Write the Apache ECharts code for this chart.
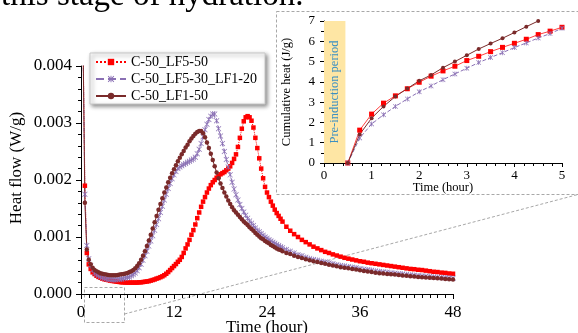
<!DOCTYPE html>
<html>
<head>
<meta charset="utf-8">
<script src="https://cdn.jsdelivr.net/npm/echarts@6/dist/echarts.min.js"></script>
<style>
  html, body { margin: 0; padding: 0; background: #fff; }
  #chart { width: 578px; height: 333px; }
</style>
</head>
<body>
<div id="chart"></div>
<script>
// main plot: heat flow, stored in mW/g (axis labels show W/g)
const hours = [
  0.25, 0.5, 0.75, 1, 1.25, 1.5, 1.75, 2, 2.25, 2.5, 2.75, 3, 3.25, 3.5, 3.75, 4,
  4.25, 4.5, 4.75, 5, 5.25, 5.5, 5.75, 6, 6.25, 6.5, 6.75, 7, 7.25, 7.5, 7.75, 8,
  8.25, 8.5, 8.75, 9, 9.25, 9.5, 9.75, 10, 10.25, 10.5, 10.75, 11, 11.25, 11.5, 11.75, 12,
  12.25, 12.5, 12.75, 13, 13.25, 13.5, 13.75, 14, 14.25, 14.5, 14.75, 15, 15.25, 15.5, 15.75, 16,
  16.25, 16.5, 16.75, 17, 17.25, 17.5, 17.75, 18, 18.25, 18.5, 18.75, 19, 19.25, 19.5, 19.75, 20,
  20.25, 20.5, 20.75, 21, 21.25, 21.5, 21.75, 22, 22.25, 22.5, 22.75, 23, 23.25, 23.5, 23.75, 24,
  24.25, 24.5, 24.75, 25, 25.25, 25.5, 25.75, 26,
  26.5, 27, 27.5, 28, 28.5, 29, 29.5, 30, 30.5, 31, 31.5, 32, 32.5, 33, 33.5, 34,
  34.5, 35, 35.5, 36, 36.5, 37, 37.5, 38, 38.5, 39, 39.5, 40, 40.5, 41, 41.5, 42,
  42.5, 43, 43.5, 44, 44.5, 45, 45.5, 46, 46.5, 47, 47.5, 48
];

const flowLF5 = [
  4.6, 1.9, 0.72, 0.52,  0.44, 0.38, 0.35, 0.32,  0.30, 0.285, 0.27, 0.26,  0.25, 0.245, 0.235, 0.23,
  0.225, 0.22, 0.215, 0.21,  0.205, 0.205, 0.2, 0.2,  0.2, 0.2, 0.2, 0.2,  0.2, 0.205, 0.205, 0.21,
  0.215, 0.22, 0.225, 0.235,  0.245, 0.255, 0.27, 0.28,  0.295, 0.31, 0.33, 0.355,  0.385, 0.42, 0.455, 0.49,
  0.525, 0.565, 0.6, 0.65,  0.72, 0.8, 0.87, 0.95,  1.04, 1.12, 1.22, 1.33,  1.43, 1.53, 1.62, 1.7,
  1.78, 1.85, 1.91, 1.96,  2.0, 2.04, 2.07, 2.1,  2.12, 2.14, 2.17, 2.2,  2.24, 2.3, 2.37, 2.45,
  2.58, 2.74, 2.9, 3.03,  3.1, 3.12, 3.1, 3.04,  2.92, 2.74, 2.56, 2.38,  2.2, 2.03, 1.88, 1.78,
  1.7, 1.62, 1.55, 1.48,  1.42, 1.37, 1.32, 1.27,
  1.18, 1.11, 1.05, 1.0, 0.95, 0.91, 0.87, 0.83, 0.8, 0.77, 0.74, 0.72, 0.695, 0.675, 0.655, 0.635,
  0.62, 0.605, 0.59, 0.575, 0.565, 0.55, 0.54, 0.53, 0.52, 0.51, 0.5, 0.49, 0.48, 0.47, 0.46, 0.45,
  0.44, 0.435, 0.425, 0.42, 0.41, 0.4, 0.39, 0.385, 0.375, 0.37, 0.36, 0.355
];

const flowMix = [
  4.6, 1.75, 0.85, 0.62,  0.5, 0.42, 0.37, 0.34,  0.32, 0.3, 0.285, 0.275,  0.265, 0.26, 0.255, 0.25,
  0.25, 0.25, 0.255, 0.26,  0.265, 0.27, 0.28, 0.29,  0.3, 0.32, 0.34, 0.37,  0.41, 0.46, 0.52, 0.59,
  0.67, 0.75, 0.84, 0.93,  1.02, 1.12, 1.22, 1.32,  1.43, 1.54, 1.65, 1.75,  1.85, 1.94, 2.02, 2.09,
  2.15, 2.2, 2.23, 2.25,  2.27, 2.29, 2.31, 2.33,  2.35, 2.37, 2.4, 2.46,  2.54, 2.64, 2.76, 2.88,
  2.98, 3.06, 3.12, 3.16,  3.16, 3.04, 2.9, 2.77,  2.64, 2.5, 2.36, 2.23,  2.09, 1.96, 1.84, 1.74,
  1.65, 1.57, 1.5, 1.44,  1.38, 1.33, 1.28, 1.24,  1.2, 1.16, 1.12, 1.09,  1.06, 1.03, 1.0, 0.98,
  0.95, 0.93, 0.91, 0.89,  0.87, 0.85, 0.83, 0.81,
  0.78, 0.75, 0.72, 0.69, 0.67, 0.645, 0.625, 0.605, 0.59, 0.575, 0.56, 0.545, 0.53, 0.515, 0.5, 0.49,
  0.48, 0.47, 0.46, 0.445, 0.435, 0.425, 0.415, 0.405, 0.395, 0.385, 0.38, 0.37, 0.365, 0.355, 0.35, 0.34,
  0.335, 0.33, 0.32, 0.315, 0.31, 0.305, 0.3, 0.295, 0.29, 0.285, 0.28, 0.275
];

const flowLF1 = [
  4.6, 1.6, 0.78, 0.6,  0.52, 0.46, 0.42, 0.4,  0.38, 0.365, 0.355, 0.345,  0.34, 0.335, 0.33, 0.33,
  0.33, 0.33, 0.335, 0.34,  0.345, 0.35, 0.36, 0.37,  0.385, 0.4, 0.42, 0.45,  0.49, 0.54, 0.6, 0.67,
  0.75, 0.84, 0.94, 1.04,  1.15, 1.26, 1.37, 1.48,  1.58, 1.68, 1.78, 1.87,  1.96, 2.04, 2.12, 2.19,
  2.26, 2.33, 2.39, 2.45,  2.51, 2.57, 2.62, 2.68,  2.73, 2.77, 2.81, 2.84,  2.86, 2.86, 2.82, 2.75,
  2.66, 2.56, 2.46, 2.35,  2.24, 2.13, 2.03, 1.94,  1.86, 1.78, 1.71, 1.64,  1.58, 1.52, 1.47, 1.43,
  1.39, 1.35, 1.31, 1.27,  1.24, 1.21, 1.17, 1.14,  1.11, 1.07, 1.04, 1.01,  0.98, 0.96, 0.93, 0.91,
  0.89, 0.86, 0.84, 0.82,  0.8, 0.78, 0.77, 0.75,
  0.72, 0.70, 0.67, 0.65, 0.63, 0.61, 0.59, 0.575, 0.56, 0.545, 0.53, 0.515, 0.5, 0.485, 0.47, 0.46,
  0.45, 0.44, 0.43, 0.415, 0.405, 0.395, 0.385, 0.375, 0.365, 0.36, 0.35, 0.345, 0.34, 0.335, 0.325, 0.32,
  0.31, 0.305, 0.3, 0.295, 0.29, 0.285, 0.28, 0.275, 0.27, 0.265, 0.26, 0.255
];

// inset: cumulative heat (J/g)
const insetHours = [0.5, 0.75, 1, 1.25, 1.5, 1.75, 2, 2.25, 2.5, 2.75, 3, 3.25, 3.5, 3.75, 4, 4.25, 4.5, 4.75, 5];
const cumLF5 = [0, 1.62, 2.41, 2.95, 3.31, 3.66, 3.98, 4.28, 4.54, 4.77, 5.05, 5.26, 5.49, 5.7, 5.9, 6.1, 6.33, 6.5, 6.69];
const cumMix = [0, 1.23, 1.92, 2.38, 2.79, 3.16, 3.51, 3.8, 4.11, 4.39, 4.67, 4.95, 5.2, 5.44, 5.69, 5.92, 6.16, 6.38, 6.64];
const cumLF1 = [0, 1.41, 2.21, 2.79, 3.28, 3.67, 4.05, 4.34, 4.7, 5.0, 5.31, 5.62, 5.89, 6.15, 6.43, 6.72, 7.0];
const preInduction = [0, 0.45];

const names = ['C-50_LF5-50', 'C-50_LF5-30_LF1-20', 'C-50_LF1-50'];
const RED = '#ff0000', PURPLE = '#8a70b4', BROWN = '#7a2a2a';
const FONT = '"Liberation Serif", "Times New Roman", serif';
const STAR = 'path://M4.3,0H5.7V10H4.3Z M0.9,0L10,9.1L9.1,10L0,0.9Z M9.1,0L10,0.9L0.9,10L0,9.1Z';

const pairs = (xs, ys) => ys.map((y, i) => [xs[i], y]);

const chart = echarts.init(document.getElementById('chart'));

const axisCommon = {
  axisLine: { lineStyle: { color: '#000', width: 1 } },
  axisTick: { lineStyle: { color: '#000' } },
  minorTick: { show: true, lineStyle: { color: '#000' } },
  splitLine: { show: false },
  minorSplitLine: { show: false }
};

var option = {
  animation: false,
  backgroundColor: '#fff',
  textStyle: { fontFamily: FONT, color: '#000' },
  grid: [
    { left: 81, right: 125, top: 66, bottom: 39, containLabel: false, outerBoundsMode: 'none' },
    { left: 324, right: 16, top: 21, bottom: 170, containLabel: false, outerBoundsMode: 'none' }
  ],
  legend: {
    data: names,
    orient: 'vertical',
    left: 90,
    top: 53,
    itemWidth: 30,
    itemHeight: 8,
    itemGap: 3,
    padding: [2, 8, 1, 5],
    backgroundColor: '#fff',
    borderColor: '#c8c8c8',
    borderWidth: 1,
    shadowColor: 'rgba(0,0,0,0.45)',
    shadowBlur: 4,
    shadowOffsetX: 2,
    shadowOffsetY: 2,
    textStyle: { fontFamily: FONT, fontSize: 14, color: '#000' }
  },
  xAxis: [
    Object.assign({}, axisCommon, {
      type: 'value', gridIndex: 0, min: 0, max: 48, interval: 12,
      axisTick: { length: 5, lineStyle: { color: '#000' } },
      minorTick: { show: true, splitNumber: 12, length: 4, lineStyle: { color: '#000' } },
      axisLabel: { fontFamily: FONT, fontSize: 17, color: '#000', margin: 10 },
      name: 'Time (hour)', nameLocation: 'middle', nameGap: 25, nameMoveOverlap: false,
      nameTextStyle: { fontFamily: FONT, fontSize: 17, color: '#000' }
    }),
    Object.assign({}, axisCommon, {
      type: 'value', gridIndex: 1, min: 0, max: 5, interval: 1,
      axisTick: { length: 4, lineStyle: { color: '#000' } },
      minorTick: { show: true, splitNumber: 5, length: 3, lineStyle: { color: '#000' } },
      axisLabel: { fontFamily: FONT, fontSize: 13, color: '#000', margin: 6 },
      name: 'Time (hour)', nameLocation: 'middle', nameGap: 18, nameMoveOverlap: false,
      nameTextStyle: { fontFamily: FONT, fontSize: 12.5, color: '#000' }
    })
  ],
  yAxis: [
    Object.assign({}, axisCommon, {
      type: 'value', gridIndex: 0, min: 0, max: 4, interval: 1,
      axisTick: { length: 5, lineStyle: { color: '#000' } },
      minorTick: { show: true, splitNumber: 5, length: 3, lineStyle: { color: '#000' } },
      axisLabel: {
        fontFamily: FONT, fontSize: 17, color: '#000', margin: 9,
        formatter: v => (v / 1000).toFixed(3)
      }
    }),
    Object.assign({}, axisCommon, {
      type: 'value', gridIndex: 1, min: 0, max: 7, interval: 1,
      axisTick: { length: 4, lineStyle: { color: '#000' } },
      minorTick: { show: true, splitNumber: 2, length: 3, lineStyle: { color: '#000' } },
      axisLabel: { fontFamily: FONT, fontSize: 13, color: '#000', margin: 9 },
      name: 'Cumulative heat (J/g)', nameLocation: 'middle', nameGap: 31,
      nameTextStyle: { fontFamily: FONT, fontSize: 12.5, color: '#000' }
    })
  ],
  graphic: [
    {
      type: 'text', x: 1, y: -4, z: 100,
      style: { text: 'this stage of hydration.', fontSize: 33, fontFamily: FONT, fill: '#000', verticalAlign: 'middle' }
    },
    {
      type: 'text', x: 17, y: 168, rotation: Math.PI / 2,
      style: { text: 'Heat flow (W/g)', fontSize: 17, fontFamily: FONT, fill: '#000', align: 'center', verticalAlign: 'middle' }
    },
    {
      type: 'rect', z: -1,
      shape: { x: 276.5, y: 11.5, width: 320, height: 183 },
      style: { fill: '#fff', stroke: '#a8a8a8', lineWidth: 1, lineDash: [3, 2] }
    },
    {
      type: 'rect',
      shape: { x: 84.5, y: 287.5, width: 40, height: 35 },
      style: { fill: null, stroke: '#a8a8a8', lineWidth: 1, lineDash: [3, 2] }
    },
    {
      type: 'line',
      shape: { x1: 124.5, y1: 314, x2: 578, y2: 194.5 },
      style: { stroke: '#a8a8a8', lineWidth: 1, lineDash: [3, 2] }
    },
    {
      type: 'text', x: 335, y: 92, rotation: Math.PI / 2, z: 100,
      style: { text: 'Pre-induction period', fontSize: 12.5, fontFamily: FONT, fill: '#3b8fc2', align: 'center', verticalAlign: 'middle' }
    }
  ],
  series: [
    {
      name: names[0], type: 'line', xAxisIndex: 0, yAxisIndex: 0,
      data: pairs(hours, flowLF5),
      symbol: 'rect', symbolSize: 4.5,
      itemStyle: { color: RED },
      lineStyle: { color: RED, width: 1, type: 'dotted' }
    },
    {
      name: names[1], type: 'line', xAxisIndex: 0, yAxisIndex: 0,
      data: pairs(hours, flowMix),
      symbol: STAR, symbolSize: 5.5,
      itemStyle: { color: PURPLE },
      lineStyle: { color: PURPLE, width: 1, type: 'dashed' }
    },
    {
      name: names[2], type: 'line', xAxisIndex: 0, yAxisIndex: 0,
      data: pairs(hours, flowLF1),
      symbol: 'circle', symbolSize: 4.5,
      itemStyle: { color: BROWN },
      lineStyle: { color: BROWN, width: 1, type: 'solid' }
    },
    {
      name: names[0], type: 'line', xAxisIndex: 1, yAxisIndex: 1,
      data: pairs(insetHours, cumLF5),
      symbol: 'rect', symbolSize: 5,
      itemStyle: { color: RED },
      lineStyle: { color: '#ff4040', width: 1 },
      markArea: {
        silent: true,
        itemStyle: { color: '#fee6a4' },
        data: [[{ xAxis: preInduction[0], yAxis: 0 }, { xAxis: preInduction[1], yAxis: 7 }]]
      }
    },
    {
      name: names[1], type: 'line', xAxisIndex: 1, yAxisIndex: 1,
      data: pairs(insetHours, cumMix),
      symbol: STAR, symbolSize: 5,
      itemStyle: { color: PURPLE },
      lineStyle: { color: PURPLE, width: 1, type: 'dashed' }
    },
    {
      name: names[2], type: 'line', xAxisIndex: 1, yAxisIndex: 1,
      data: pairs(insetHours, cumLF1),
      symbol: 'circle', symbolSize: 4,
      itemStyle: { color: BROWN },
      lineStyle: { color: BROWN, width: 1 }
    }
  ]
};

option && chart.setOption(option);
</script>
</body>
</html>
